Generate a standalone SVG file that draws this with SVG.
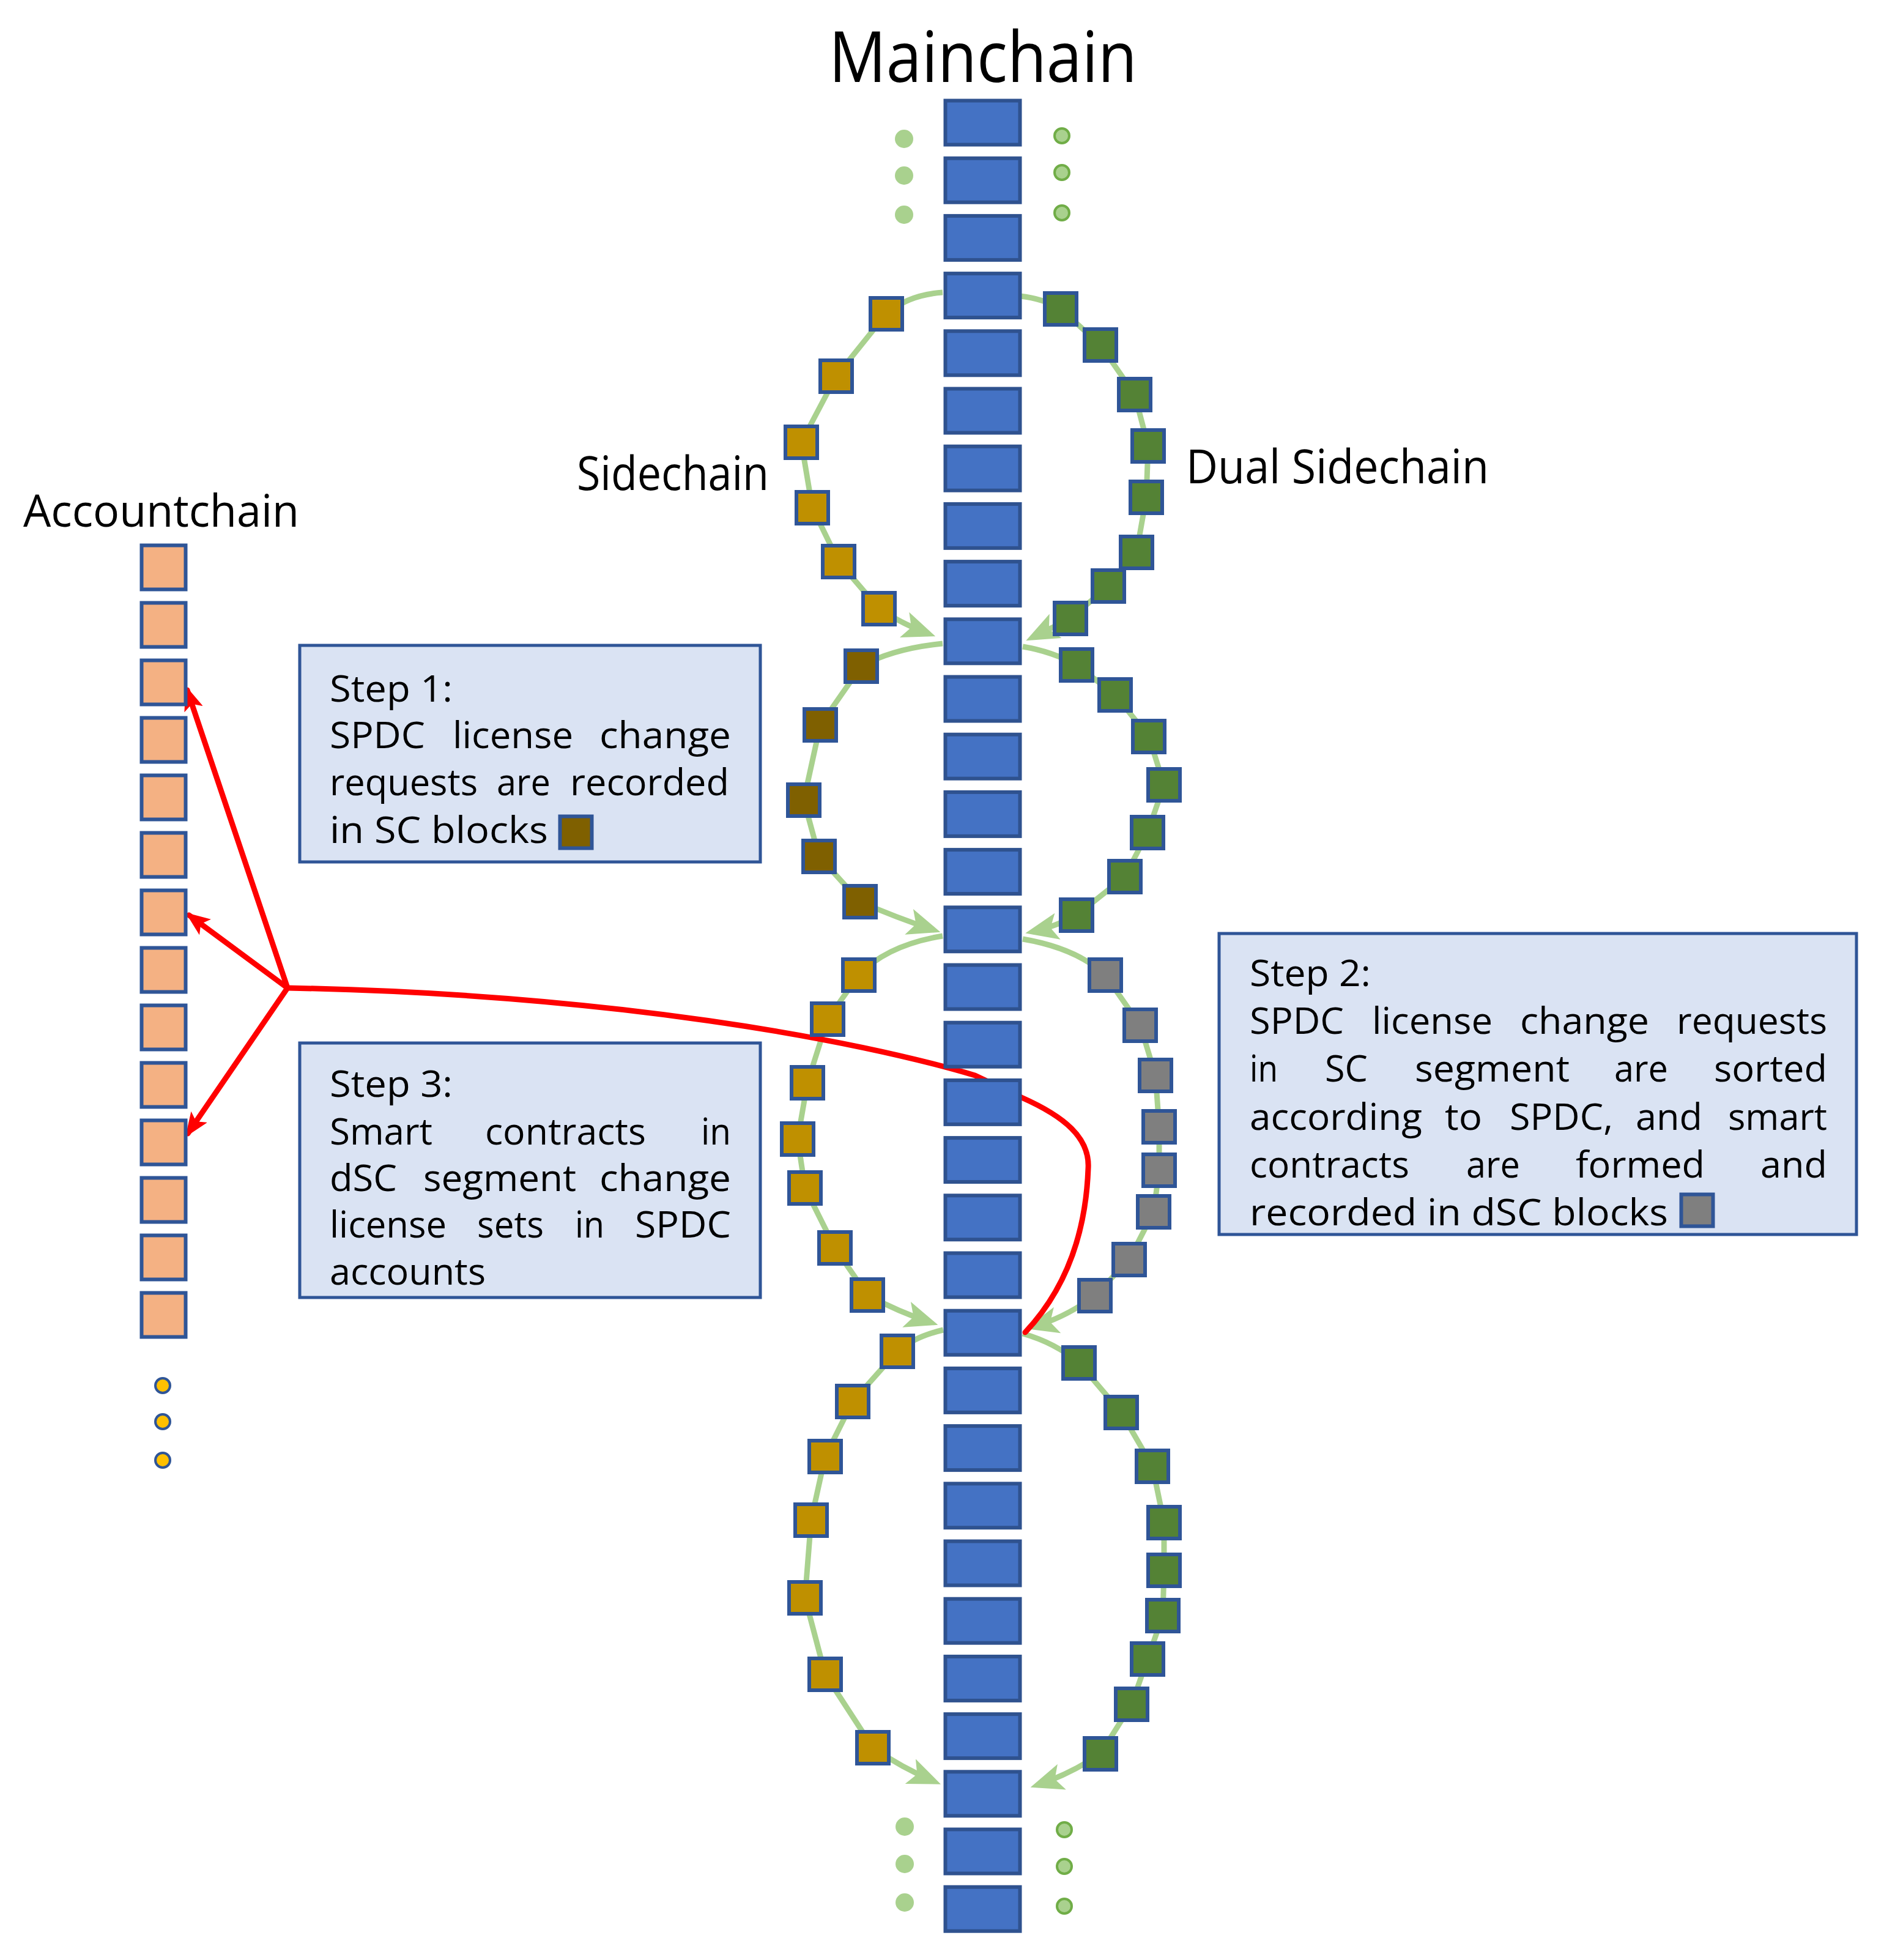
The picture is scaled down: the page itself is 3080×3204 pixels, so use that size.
<svg xmlns="http://www.w3.org/2000/svg" width="3080" height="3204" viewBox="0 0 3080 3204">
<style>
.mc{fill:#4472C4;stroke:#2F528F;stroke-width:6}
.ac{fill:#F4B183;stroke:#2F5597;stroke-width:6}
.sq{stroke:#2F5597;stroke-width:6}
.or{fill:#BF9000}.gr{fill:#548235}.br{fill:#7F6000}.gy{fill:#7F7F7F}
.loop{fill:none;stroke:#A9D18E;stroke-width:9;stroke-linejoin:round;marker-end:url(#ga)}
.red{fill:none;stroke:#FF0000;stroke-width:9;stroke-linejoin:round;stroke-linecap:round}
.rarr{marker-end:url(#ra)}
.box{fill:#DAE3F3;stroke:#2F5597;stroke-width:5}
.t{font-family:"Open Sans","Noto Sans","Liberation Sans",sans-serif;font-size:60px;fill:#000}
.h{font-family:"Open Sans","Noto Sans","Liberation Sans",sans-serif;fill:#000}
.dl{fill:#A9D18E}
.dr{fill:#A9D18E;stroke:#70AD47;stroke-width:4}
.da{fill:#FFC000;stroke:#2F5597;stroke-width:4}
</style>
<defs>
<marker id="ga" markerUnits="userSpaceOnUse" markerWidth="54" markerHeight="44" viewBox="0 0 54 44" refX="42" refY="22" orient="auto"><path d="M0,0 L54,22 L0,44 L12,22 Z" fill="#A9D18E"/></marker>
<marker id="ra" markerUnits="userSpaceOnUse" markerWidth="40" markerHeight="32" viewBox="0 0 40 32" refX="33" refY="16" orient="auto"><path d="M0,0 L40,16 L0,32 L9,16 Z" fill="#FF0000"/></marker>
</defs>
<rect width="3080" height="3204" fill="#FFFFFF"/>

<g id="connectors">
<path class="loop" d="M1541,478 Q1485,482 1449,513 L1367,615 L1310,723 L1328,830 L1371,918 L1437,995 Q1475,1020 1518,1036"/>
<path class="loop" d="M1668,484 Q1705,488 1734,505 L1799,564 L1855,645 L1877,729 L1874,813 L1858,903 L1812,958 L1750,1011 L1688,1042"/>
<path class="loop" d="M1541,1052 Q1460,1060 1408,1089 L1341,1185 L1314,1308 L1339,1400 L1406,1474 Q1465,1500 1526,1520"/>
<path class="loop" d="M1672,1057 Q1720,1065 1760,1087 L1823,1136 L1878,1204 L1903,1283 L1876,1361 L1839,1433 L1760,1496 Q1725,1515 1688,1523"/>
<path class="loop" d="M1541,1530 Q1450,1545 1404,1594 L1353,1666 L1320,1770 L1304,1862 L1316,1942 L1365,2040 L1418,2117 Q1470,2145 1522,2162"/>
<path class="loop" d="M1672,1535 Q1760,1550 1807,1594 L1864,1676 L1889,1758 L1895,1842 L1895,1913 L1886,1981 L1846,2059 L1790,2118 Q1740,2155 1688,2169"/>
<path class="loop" d="M1542,2174 Q1495,2185 1467,2209 L1394,2291 L1349,2381 L1326,2485 L1316,2612 L1349,2737 L1427,2857 Q1475,2890 1527,2912"/>
<path class="loop" d="M1672,2180 Q1725,2195 1764,2228 L1833,2309 L1884,2397 L1903,2489 L1903,2567 L1901,2641 L1876,2712 L1850,2786 L1799,2867 Q1750,2900 1696,2918"/>
<path class="red" d="M1676,2178 C1740,2110 1775,2020 1779,1910 C1782,1860 1740,1825 1670,1794 L1594,1758 C1400,1700 1000,1625 470,1615"/>
<path class="red rarr" d="M470,1615 L306,1128"/>
<path class="red rarr" d="M470,1615 L309,1496"/>
<path class="red rarr" d="M470,1615 L307,1853"/>
</g>

<g id="sidechain">
<g id="sc1-1"><rect class="sq or" x="1423" y="487" width="52" height="52"/></g>
<g id="sc1-2"><rect class="sq or" x="1341" y="589" width="52" height="52"/></g>
<g id="sc1-3"><rect class="sq or" x="1284" y="697" width="52" height="52"/></g>
<g id="sc1-4"><rect class="sq or" x="1302" y="804" width="52" height="52"/></g>
<g id="sc1-5"><rect class="sq or" x="1345" y="892" width="52" height="52"/></g>
<g id="sc1-6"><rect class="sq or" x="1411" y="969" width="52" height="52"/></g>
<g id="sc2-1"><rect class="sq br" x="1382" y="1063" width="52" height="52"/></g>
<g id="sc2-2"><rect class="sq br" x="1315" y="1159" width="52" height="52"/></g>
<g id="sc2-3"><rect class="sq br" x="1288" y="1282" width="52" height="52"/></g>
<g id="sc2-4"><rect class="sq br" x="1313" y="1374" width="52" height="52"/></g>
<g id="sc2-5"><rect class="sq br" x="1380" y="1448" width="52" height="52"/></g>
<g id="sc3-1"><rect class="sq or" x="1378" y="1568" width="52" height="52"/></g>
<g id="sc3-2"><rect class="sq or" x="1327" y="1640" width="52" height="52"/></g>
<g id="sc3-3"><rect class="sq or" x="1294" y="1744" width="52" height="52"/></g>
<g id="sc3-4"><rect class="sq or" x="1278" y="1836" width="52" height="52"/></g>
<g id="sc3-5"><rect class="sq or" x="1290" y="1916" width="52" height="52"/></g>
<g id="sc3-6"><rect class="sq or" x="1339" y="2014" width="52" height="52"/></g>
<g id="sc3-7"><rect class="sq or" x="1392" y="2091" width="52" height="52"/></g>
<g id="sc4-1"><rect class="sq or" x="1441" y="2183" width="52" height="52"/></g>
<g id="sc4-2"><rect class="sq or" x="1368" y="2265" width="52" height="52"/></g>
<g id="sc4-3"><rect class="sq or" x="1323" y="2355" width="52" height="52"/></g>
<g id="sc4-4"><rect class="sq or" x="1300" y="2459" width="52" height="52"/></g>
<g id="sc4-5"><rect class="sq or" x="1290" y="2586" width="52" height="52"/></g>
<g id="sc4-6"><rect class="sq or" x="1323" y="2711" width="52" height="52"/></g>
<g id="sc4-7"><rect class="sq or" x="1401" y="2831" width="52" height="52"/></g>
</g>

<g id="dual-sidechain">
<g id="ds1-1"><rect class="sq gr" x="1708" y="479" width="52" height="52"/></g>
<g id="ds1-2"><rect class="sq gr" x="1773" y="538" width="52" height="52"/></g>
<g id="ds1-3"><rect class="sq gr" x="1829" y="619" width="52" height="52"/></g>
<g id="ds1-4"><rect class="sq gr" x="1851" y="703" width="52" height="52"/></g>
<g id="ds1-5"><rect class="sq gr" x="1848" y="787" width="52" height="52"/></g>
<g id="ds1-6"><rect class="sq gr" x="1832" y="877" width="52" height="52"/></g>
<g id="ds1-7"><rect class="sq gr" x="1786" y="932" width="52" height="52"/></g>
<g id="ds1-8"><rect class="sq gr" x="1724" y="985" width="52" height="52"/></g>
<g id="ds2-1"><rect class="sq gr" x="1734" y="1061" width="52" height="52"/></g>
<g id="ds2-2"><rect class="sq gr" x="1797" y="1110" width="52" height="52"/></g>
<g id="ds2-3"><rect class="sq gr" x="1852" y="1178" width="52" height="52"/></g>
<g id="ds2-4"><rect class="sq gr" x="1877" y="1257" width="52" height="52"/></g>
<g id="ds2-5"><rect class="sq gr" x="1850" y="1335" width="52" height="52"/></g>
<g id="ds2-6"><rect class="sq gr" x="1813" y="1407" width="52" height="52"/></g>
<g id="ds2-7"><rect class="sq gr" x="1734" y="1470" width="52" height="52"/></g>
<g id="ds3-1"><rect class="sq gy" x="1781" y="1568" width="52" height="52"/></g>
<g id="ds3-2"><rect class="sq gy" x="1838" y="1650" width="52" height="52"/></g>
<g id="ds3-3"><rect class="sq gy" x="1863" y="1732" width="52" height="52"/></g>
<g id="ds3-4"><rect class="sq gy" x="1869" y="1816" width="52" height="52"/></g>
<g id="ds3-5"><rect class="sq gy" x="1869" y="1887" width="52" height="52"/></g>
<g id="ds3-6"><rect class="sq gy" x="1860" y="1955" width="52" height="52"/></g>
<g id="ds3-7"><rect class="sq gy" x="1820" y="2033" width="52" height="52"/></g>
<g id="ds3-8"><rect class="sq gy" x="1764" y="2092" width="52" height="52"/></g>
<g id="ds4-1"><rect class="sq gr" x="1738" y="2202" width="52" height="52"/></g>
<g id="ds4-2"><rect class="sq gr" x="1807" y="2283" width="52" height="52"/></g>
<g id="ds4-3"><rect class="sq gr" x="1858" y="2371" width="52" height="52"/></g>
<g id="ds4-4"><rect class="sq gr" x="1877" y="2463" width="52" height="52"/></g>
<g id="ds4-5"><rect class="sq gr" x="1877" y="2541" width="52" height="52"/></g>
<g id="ds4-6"><rect class="sq gr" x="1875" y="2615" width="52" height="52"/></g>
<g id="ds4-7"><rect class="sq gr" x="1850" y="2686" width="52" height="52"/></g>
<g id="ds4-8"><rect class="sq gr" x="1824" y="2760" width="52" height="52"/></g>
<g id="ds4-9"><rect class="sq gr" x="1773" y="2841" width="52" height="52"/></g>
</g>

<g id="mainchain">
<g id="mc01"><rect class="mc" x="1545.5" y="164.5" width="122" height="72"/></g>
<g id="mc02"><rect class="mc" x="1545.5" y="258.7" width="122" height="72"/></g>
<g id="mc03"><rect class="mc" x="1545.5" y="352.9" width="122" height="72"/></g>
<g id="mc04"><rect class="mc" x="1545.5" y="447.1" width="122" height="72"/></g>
<g id="mc05"><rect class="mc" x="1545.5" y="541.3" width="122" height="72"/></g>
<g id="mc06"><rect class="mc" x="1545.5" y="635.5" width="122" height="72"/></g>
<g id="mc07"><rect class="mc" x="1545.5" y="729.7" width="122" height="72"/></g>
<g id="mc08"><rect class="mc" x="1545.5" y="823.9" width="122" height="72"/></g>
<g id="mc09"><rect class="mc" x="1545.5" y="918.1" width="122" height="72"/></g>
<g id="mc10"><rect class="mc" x="1545.5" y="1012.3" width="122" height="72"/></g>
<g id="mc11"><rect class="mc" x="1545.5" y="1106.5" width="122" height="72"/></g>
<g id="mc12"><rect class="mc" x="1545.5" y="1200.7" width="122" height="72"/></g>
<g id="mc13"><rect class="mc" x="1545.5" y="1294.9" width="122" height="72"/></g>
<g id="mc14"><rect class="mc" x="1545.5" y="1389.1" width="122" height="72"/></g>
<g id="mc15"><rect class="mc" x="1545.5" y="1483.3" width="122" height="72"/></g>
<g id="mc16"><rect class="mc" x="1545.5" y="1577.5" width="122" height="72"/></g>
<g id="mc17"><rect class="mc" x="1545.5" y="1671.7" width="122" height="72"/></g>
<g id="mc18"><rect class="mc" x="1545.5" y="1765.9" width="122" height="72"/></g>
<g id="mc19"><rect class="mc" x="1545.5" y="1860.1" width="122" height="72"/></g>
<g id="mc20"><rect class="mc" x="1545.5" y="1954.3" width="122" height="72"/></g>
<g id="mc21"><rect class="mc" x="1545.5" y="2048.5" width="122" height="72"/></g>
<g id="mc22"><rect class="mc" x="1545.5" y="2142.7" width="122" height="72"/></g>
<g id="mc23"><rect class="mc" x="1545.5" y="2236.9" width="122" height="72"/></g>
<g id="mc24"><rect class="mc" x="1545.5" y="2331.1" width="122" height="72"/></g>
<g id="mc25"><rect class="mc" x="1545.5" y="2425.3" width="122" height="72"/></g>
<g id="mc26"><rect class="mc" x="1545.5" y="2519.5" width="122" height="72"/></g>
<g id="mc27"><rect class="mc" x="1545.5" y="2613.7" width="122" height="72"/></g>
<g id="mc28"><rect class="mc" x="1545.5" y="2707.9" width="122" height="72"/></g>
<g id="mc29"><rect class="mc" x="1545.5" y="2802.1" width="122" height="72"/></g>
<g id="mc30"><rect class="mc" x="1545.5" y="2896.3" width="122" height="72"/></g>
<g id="mc31"><rect class="mc" x="1545.5" y="2990.5" width="122" height="72"/></g>
<g id="mc32"><rect class="mc" x="1545.5" y="3084.7" width="122" height="72"/></g>
</g>

<g id="accountchain">
<g id="ac01"><rect class="ac" x="231.5" y="891.5" width="72" height="72"/></g>
<g id="ac02"><rect class="ac" x="231.5" y="985.5" width="72" height="72"/></g>
<g id="ac03"><rect class="ac" x="231.5" y="1079.5" width="72" height="72"/></g>
<g id="ac04"><rect class="ac" x="231.5" y="1173.5" width="72" height="72"/></g>
<g id="ac05"><rect class="ac" x="231.5" y="1267.5" width="72" height="72"/></g>
<g id="ac06"><rect class="ac" x="231.5" y="1361.5" width="72" height="72"/></g>
<g id="ac07"><rect class="ac" x="231.5" y="1455.5" width="72" height="72"/></g>
<g id="ac08"><rect class="ac" x="231.5" y="1549.5" width="72" height="72"/></g>
<g id="ac09"><rect class="ac" x="231.5" y="1643.5" width="72" height="72"/></g>
<g id="ac10"><rect class="ac" x="231.5" y="1737.5" width="72" height="72"/></g>
<g id="ac11"><rect class="ac" x="231.5" y="1831.5" width="72" height="72"/></g>
<g id="ac12"><rect class="ac" x="231.5" y="1925.5" width="72" height="72"/></g>
<g id="ac13"><rect class="ac" x="231.5" y="2019.5" width="72" height="72"/></g>
<g id="ac14"><rect class="ac" x="231.5" y="2113.5" width="72" height="72"/></g>
</g>

<g id="ellipsis-dots">
<circle class="dl" cx="1478" cy="227" r="15"/><circle class="dl" cx="1478" cy="287" r="15"/><circle class="dl" cx="1478" cy="351" r="15"/>
<circle class="dr" cx="1736" cy="222" r="12"/><circle class="dr" cx="1736" cy="282" r="12"/><circle class="dr" cx="1736" cy="348" r="12"/>
<circle class="dl" cx="1479" cy="2986" r="15"/><circle class="dl" cx="1479" cy="3047" r="15"/><circle class="dl" cx="1479" cy="3110" r="15"/>
<circle class="dr" cx="1740" cy="2991" r="12"/><circle class="dr" cx="1740" cy="3051" r="12"/><circle class="dr" cx="1740" cy="3116" r="12"/>
<circle class="da" cx="266" cy="2265" r="12"/><circle class="da" cx="266" cy="2324" r="12"/><circle class="da" cx="266" cy="2387" r="12"/>
</g>

<g id="labels">
<text class="h" x="1355" y="134" font-size="115" textLength="504" lengthAdjust="spacingAndGlyphs">Mainchain</text>
<text class="h" x="943" y="801" font-size="76" textLength="314" lengthAdjust="spacingAndGlyphs">Sidechain</text>
<text class="h" x="1939" y="790" font-size="76" textLength="495" lengthAdjust="spacingAndGlyphs">Dual Sidechain</text>
<text class="h" x="38" y="861" font-size="74" textLength="451" lengthAdjust="spacingAndGlyphs">Accountchain</text>
</g>

<g id="step1">
<rect class="box" x="490" y="1055" width="753" height="354"/>
<text class="t" x="539" y="1147" textLength="201" lengthAdjust="spacingAndGlyphs">Step 1:</text>
<text class="t" x="539" y="1223" textLength="156" lengthAdjust="spacingAndGlyphs">SPDC</text>
<text class="t" x="740" y="1223" textLength="197" lengthAdjust="spacingAndGlyphs">license</text>
<text class="t" x="980" y="1223" textLength="215" lengthAdjust="spacingAndGlyphs">change</text>
<text class="t" x="539" y="1300" textLength="242" lengthAdjust="spacingAndGlyphs">requests</text>
<text class="t" x="812" y="1300" textLength="88" lengthAdjust="spacingAndGlyphs">are</text>
<text class="t" x="932" y="1300" textLength="260" lengthAdjust="spacingAndGlyphs">recorded</text>
<text class="t" x="539" y="1378" textLength="357" lengthAdjust="spacingAndGlyphs">in SC blocks</text>
<rect class="sq br" x="915.5" y="1334.5" width="52" height="52"/>
</g>

<g id="step2">
<rect class="box" x="1993" y="1526" width="1042" height="492"/>
<text class="t" x="2043" y="1612" textLength="198" lengthAdjust="spacingAndGlyphs">Step 2:</text>
<text class="t" x="2043" y="1690" textLength="154" lengthAdjust="spacingAndGlyphs">SPDC</text>
<text class="t" x="2243" y="1690" textLength="197" lengthAdjust="spacingAndGlyphs">license</text>
<text class="t" x="2485" y="1690" textLength="211" lengthAdjust="spacingAndGlyphs">change</text>
<text class="t" x="2741" y="1690" textLength="246" lengthAdjust="spacingAndGlyphs">requests</text>
<text class="t" x="2043" y="1768" textLength="46" lengthAdjust="spacingAndGlyphs">in</text>
<text class="t" x="2166" y="1768" textLength="70" lengthAdjust="spacingAndGlyphs">SC</text>
<text class="t" x="2313" y="1768" textLength="253" lengthAdjust="spacingAndGlyphs">segment</text>
<text class="t" x="2639" y="1768" textLength="88" lengthAdjust="spacingAndGlyphs">are</text>
<text class="t" x="2802" y="1768" textLength="185" lengthAdjust="spacingAndGlyphs">sorted</text>
<text class="t" x="2043" y="1847" textLength="282" lengthAdjust="spacingAndGlyphs">according</text>
<text class="t" x="2362" y="1847" textLength="61" lengthAdjust="spacingAndGlyphs">to</text>
<text class="t" x="2468" y="1847" textLength="169" lengthAdjust="spacingAndGlyphs">SPDC,</text>
<text class="t" x="2674" y="1847" textLength="109" lengthAdjust="spacingAndGlyphs">and</text>
<text class="t" x="2825" y="1847" textLength="162" lengthAdjust="spacingAndGlyphs">smart</text>
<text class="t" x="2043" y="1925" textLength="261" lengthAdjust="spacingAndGlyphs">contracts</text>
<text class="t" x="2397" y="1925" textLength="88" lengthAdjust="spacingAndGlyphs">are</text>
<text class="t" x="2576" y="1925" textLength="211" lengthAdjust="spacingAndGlyphs">formed</text>
<text class="t" x="2878" y="1925" textLength="109" lengthAdjust="spacingAndGlyphs">and</text>
<text class="t" x="2043" y="2003" textLength="684" lengthAdjust="spacingAndGlyphs">recorded in dSC blocks</text>
<rect class="sq gy" x="2748.5" y="1952.5" width="52" height="52"/>
</g>

<g id="step3">
<rect class="box" x="490" y="1705" width="753" height="416"/>
<text class="t" x="539" y="1793" textLength="201" lengthAdjust="spacingAndGlyphs">Step 3:</text>
<text class="t" x="539" y="1871" textLength="168" lengthAdjust="spacingAndGlyphs">Smart</text>
<text class="t" x="793" y="1871" textLength="263" lengthAdjust="spacingAndGlyphs">contracts</text>
<text class="t" x="1146" y="1871" textLength="49" lengthAdjust="spacingAndGlyphs">in</text>
<text class="t" x="539" y="1947" textLength="110" lengthAdjust="spacingAndGlyphs">dSC</text>
<text class="t" x="692" y="1947" textLength="250" lengthAdjust="spacingAndGlyphs">segment</text>
<text class="t" x="980" y="1947" textLength="215" lengthAdjust="spacingAndGlyphs">change</text>
<text class="t" x="539" y="2023" textLength="191" lengthAdjust="spacingAndGlyphs">license</text>
<text class="t" x="780" y="2023" textLength="109" lengthAdjust="spacingAndGlyphs">sets</text>
<text class="t" x="940" y="2023" textLength="48" lengthAdjust="spacingAndGlyphs">in</text>
<text class="t" x="1038" y="2023" textLength="157" lengthAdjust="spacingAndGlyphs">SPDC</text>
<text class="t" x="539" y="2100" textLength="255" lengthAdjust="spacingAndGlyphs">accounts</text>
</g>
</svg>
